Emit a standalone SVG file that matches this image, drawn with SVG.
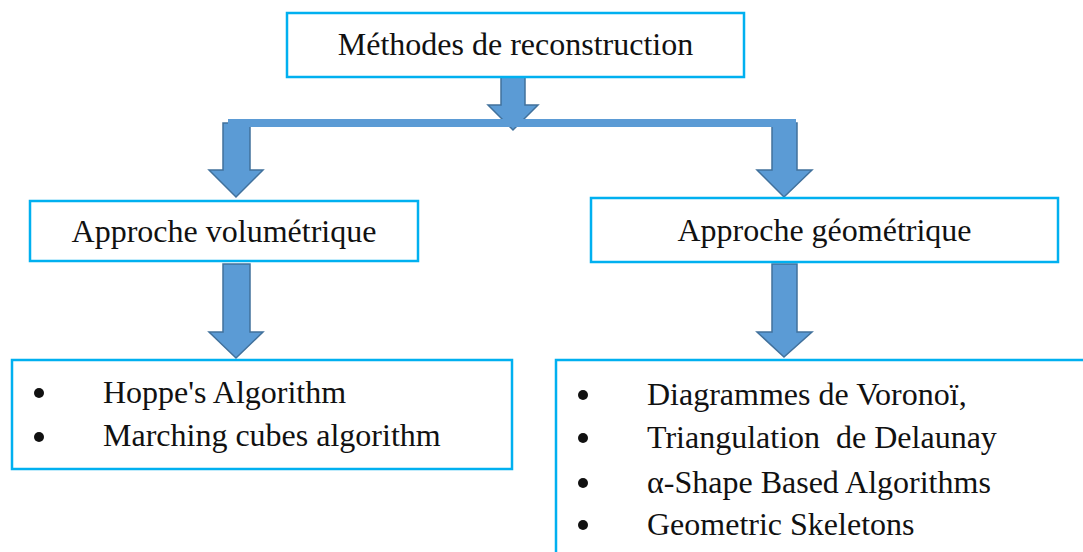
<svg xmlns="http://www.w3.org/2000/svg" width="1083" height="552" viewBox="0 0 1083 552">
<style>
.box{fill:#fff;stroke:#00B0F0;stroke-width:2.5}
.t{font-family:"Liberation Serif","Times New Roman",serif;font-size:32px;fill:#111}
.arr{fill:#5B9BD5;stroke:#41719C;stroke-width:1.5;stroke-linejoin:miter}
.bul{fill:#111}
</style>
<rect width="1083" height="552" fill="#fff"/>
<g id="connectors">
<path class="arr" d="M501,75 H525 V105 H538 L513,130 L488,105 H501 Z"/>
<path class="arr" d="M223,123 H250 V170 H263 L236,197 L209,170 H223 Z"/>
<path class="arr" d="M772,123 H797 V170 H812 L784,197 L757,170 H772 Z"/>
<rect x="228" y="119" width="568" height="8" fill="#5B9BD5"/>
<path class="arr" d="M223,264 H250 V332 H263 L236,358 L209,332 H223 Z"/>
<path class="arr" d="M772,264 H797 V332 H812 L784,357 L757,332 H772 Z"/>
</g>
<g id="top">
<rect class="box" x="287" y="13" width="457" height="64"/>
<text class="t" x="515.5" y="55" text-anchor="middle">Méthodes de reconstruction</text>
</g>
<g id="volumetrique">
<rect class="box" x="30" y="201" width="388" height="60"/>
<text class="t" x="224" y="242" text-anchor="middle">Approche volumétrique</text>
</g>
<g id="geometrique">
<rect class="box" x="591" y="198" width="467" height="64"/>
<text class="t" x="824.5" y="241" text-anchor="middle">Approche géométrique</text>
</g>
<g id="vol-list">
<rect class="box" x="12" y="360" width="500" height="109"/>
<circle class="bul" cx="39" cy="393" r="5"/>
<circle class="bul" cx="39" cy="437" r="5"/>
<text class="t" x="103" y="403">Hoppe's Algorithm</text>
<text class="t" x="103" y="446">Marching cubes algorithm</text>
</g>
<g id="geo-list">
<rect class="box" x="556" y="360" width="540" height="220"/>
<circle class="bul" cx="583" cy="395" r="5"/>
<circle class="bul" cx="583" cy="438" r="5"/>
<circle class="bul" cx="583" cy="483" r="5"/>
<circle class="bul" cx="583" cy="525" r="5"/>
<text class="t" x="647" y="405">Diagrammes de Voronoï,</text>
<text class="t" x="647" y="448" style="white-space:pre">Triangulation  de Delaunay</text>
<text class="t" x="647" y="493">α-Shape Based Algorithms</text>
<text class="t" x="647" y="535">Geometric Skeletons</text>
</g>
</svg>
